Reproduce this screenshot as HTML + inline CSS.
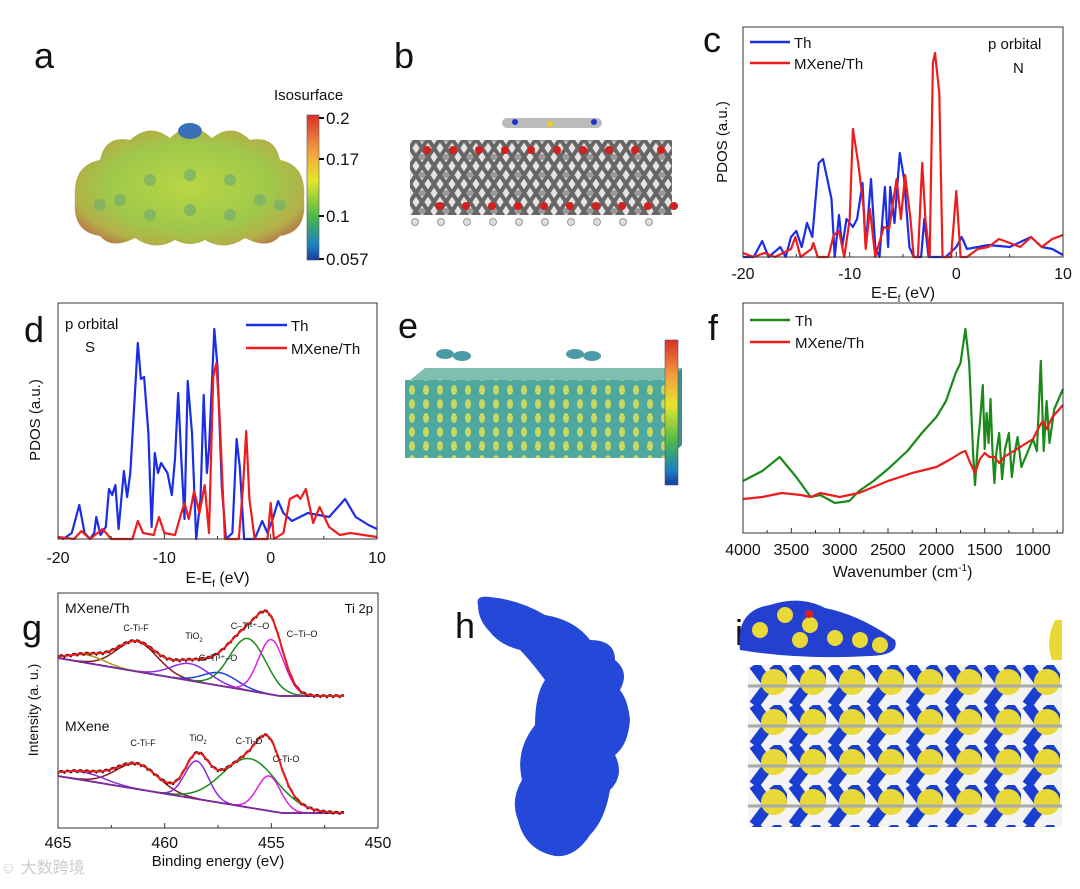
<!DOCTYPE html>
<html><head><meta charset="utf-8">
<style>
html,body{margin:0;padding:0;background:#fff;}
body{width:1080px;height:889px;position:relative;overflow:hidden;font-family:"Liberation Sans","Noto Sans CJK SC",sans-serif;}
svg{position:absolute;left:0;top:0;}
text{font-family:"Liberation Sans","Noto Sans CJK SC",sans-serif;}
</style></head>
<body>
<svg id="fig" width="1080" height="889" viewBox="0 0 1080 889">
<defs>
<linearGradient id="cbar" x1="0" y1="0" x2="0" y2="1">
<stop offset="0" stop-color="#d7302a"/><stop offset="0.25" stop-color="#f4a040"/><stop offset="0.45" stop-color="#e6e62a"/><stop offset="0.7" stop-color="#4cb84c"/><stop offset="0.9" stop-color="#1a80c0"/><stop offset="1" stop-color="#1a3aa0"/>
</linearGradient>
<radialGradient id="blobA" cx="0.5" cy="0.5" r="0.6">
<stop offset="0" stop-color="#b9d645"/><stop offset="0.6" stop-color="#9fc84a"/><stop offset="0.85" stop-color="#b3b048"/><stop offset="1" stop-color="#b7744a"/>
</radialGradient>
<pattern id="slabB" x="410" y="130" width="24" height="18" patternUnits="userSpaceOnUse">
<rect width="24" height="18" fill="#e4e4e4"/>
<path d="M0 18 L12 0 M12 18 L24 0 M0 0 L12 18 M12 0 L24 18" stroke="#666" stroke-width="4"/>
<circle cx="12" cy="9" r="3" fill="#999"/>
</pattern>
<pattern id="slabE" x="405" y="355" width="14" height="14" patternUnits="userSpaceOnUse">
<rect width="14" height="14" fill="#4fa8a0"/>
<ellipse cx="7" cy="7" rx="3" ry="5" fill="#c8d860"/>
</pattern>
<pattern id="slabI" x="748" y="665" width="39" height="40" patternUnits="userSpaceOnUse">
<rect width="39" height="40" fill="#f4f4f4"/>
<path d="M6 0 L21 20 L6 40 M26 0 L39 18" stroke="#1a3fd0" stroke-width="11" fill="none"/>
<circle cx="26" cy="17" r="13" fill="#e8d838"/>
<path d="M0 21 L39 21" stroke="#aaa" stroke-width="3"/>
</pattern>
</defs>
</svg>
<script>
// ---------------- DATA ----------------
// Panel c: PDOS N p orbital (energy eV, intensity a.u.)
const cBlueE=[-20,-19,-18.2,-17.6,-16.5,-16,-15.5,-15,-14.5,-14,-13.5,-12.9,-12.5,-12.1,-11.7,-11.4,-11,-10.7,-10.3,-9.7,-9.3,-8.8,-8.5,-8,-7.6,-7.2,-6.7,-6.4,-6.2,-5.8,-5.3,-4.9,-4.4,-4,-3.3,-3,-2.6,-1,0,0.5,1,2,3,5,7,8,9,10];
const cBlueV=[0,0,8,0,5,0,10,13,5,17,10,47,49,39,29,0,21,5,19,15,19,37,5,39,5,0,35,5,35,17,52,39,5,0,0,19,0,0,5,10,4,5,6,5,10,5,4,1];
const cRedE=[-20,-19,-18,-17,-15.5,-15.1,-14.6,-13.6,-13.4,-13,-12,-11.5,-11,-10.5,-10,-9.7,-9.2,-8.7,-8.5,-8.1,-7.6,-6.8,-6.3,-5.6,-5.2,-4.8,-4.3,-4,-3.6,-3.2,-2.9,-2.5,-2.2,-2,-1.6,-1.3,-0.5,0,0.4,1,2,3,4,5,6,7,8,9,10];
const cRedV=[2,0,2,0,4,10,0,4,7,0,0,11,13,0,19,64,47,25,4,24,0,15,14,39,19,41,19,0,0,47,19,0,97,102,82,0,0,33,0,0,4,5,9,7,5,10,5,9,11];
// Panel d: PDOS S p orbital
const dBlueE=[-20,-19.5,-18.7,-18,-17.5,-17,-16.6,-16.4,-16,-15.5,-15.2,-14.9,-14.6,-14.3,-13.8,-13.5,-13.2,-12.8,-12.5,-12.2,-11.9,-11.5,-11.2,-10.9,-10.6,-10.3,-9.7,-9.3,-9,-8.7,-8.4,-8.1,-7.8,-7.4,-7,-6.6,-6.3,-6,-5.8,-5.3,-5,-4.6,-4.2,-3.6,-3.2,-2.9,-2.5,-1.5,-0.8,-0.3,0.2,0.7,1.2,2,3.5,5.5,7,8,9.2,10];
const dBlueV=[1,0,3,17,3,0,3,11,2,6,25,22,27,5,34,21,33,70,98,80,81,53,6,43,33,38,33,22,40,73,40,10,79,53,0,20,72,33,45,105,86,26,0,3,50,36,0,0,9,3,10,19,13,9,13,11,20,11,7,5];
const dRedE=[-20,-18.5,-17.8,-17,-15.8,-15,-13,-12.5,-12,-11,-10.5,-10,-9,-8.4,-8.1,-7.7,-7.2,-6.7,-6.2,-5.8,-5.4,-5.1,-4.8,-4.3,-3,-2.6,-2.3,-2,-1.5,-0.3,0,0.3,1.2,1.8,2.5,2.8,3.3,4,4.6,5.5,6.5,7.5,10];
const dRedV=[1,0,4,0,5,0,0,9,3,2,11,3,2,13,18,10,24,13,27,3,81,88,61,0,0,26,54,20,0,0,18,0,3,20,22,20,25,8,16,6,2,3,1];
// Panel f: FTIR (wavenumber cm-1, transmittance a.u.)
const fGreenW=[4000,3800,3620,3450,3300,3200,3050,2900,2800,2650,2500,2300,2150,2000,1900,1800,1750,1700,1660,1620,1600,1570,1550,1520,1500,1480,1460,1440,1420,1400,1380,1350,1320,1290,1250,1220,1190,1160,1120,1060,1000,960,920,890,860,830,780,690];
const fGreenV=[26,31,38,28,18,19,15,16,21,26,32,41,50,58,66,80,85,102,85,40,24,45,55,74,42,60,45,67,42,25,40,50,27,42,50,28,40,48,33,40,47,41,86,41,66,45,62,72];
const fRedW=[4000,3800,3600,3400,3300,3200,3000,2800,2500,2250,2000,1850,1750,1700,1650,1600,1550,1500,1450,1400,1350,1300,1200,1100,1000,950,900,860,800,690];
const fRedV=[17,18,20,19,18,20,18,20,26,30,33,37,40,41,35,30,37,40,38,38,35,38,41,44,47,52,56,52,58,64];
// Panel g: XPS Ti 2p fitted components (center eV, amplitude, sigma)
const gTopCenter=[461.3,458.8,457.4,456.1,455.0,463.6];
const gTopAmp=[30,17,13,52,55,8];
const gTopSigma=[0.95,0.9,0.8,0.85,0.6,0.8];
const gTopColors=["#8b1a1a","#8a2be2","#1f3fe0","#1a8a1a","#e020e0","#a0a020"];
const gBotCenter=[461.3,458.5,456.0,455.1,463.8];
const gBotAmp=[25,38,49,35,8];
const gBotSigma=[1.0,0.55,1.3,0.55,1.0];
const gBotColors=["#8b1a1a","#8a2be2","#1a8a1a","#e020e0","#8a2be2"];
// ---------------- HELPERS ----------------
const NS="http://www.w3.org/2000/svg";
const svg=document.getElementById('fig');
function mk(tag,attrs,parent){const e=document.createElementNS(NS,tag);for(const k in attrs)e.setAttribute(k,attrs[k]);(parent||svg).appendChild(e);return e;}
function lin(d0,d1,r0,r1){return v=>r0+(v-d0)/(d1-d0)*(r1-r0);}
function txt(x,y,s,size,anchor,parent,extra){const t=mk('text',Object.assign({x:x,y:y,'font-size':size,'text-anchor':anchor||'start',fill:'#111'},extra||{}),parent);t.textContent=s;return t;}
function path(xs,ys,sx,sy,color,parent,w){let d='';for(let i=0;i<xs.length;i++){d+=(i?'L':'M')+sx(xs[i]).toFixed(1)+' '+sy(ys[i]).toFixed(1);}return mk('path',{d:d,fill:'none',stroke:color,'stroke-width':w||2.2,'stroke-linejoin':'round'},parent);}
function axesBox(g,L,T,R,B){mk('rect',{x:L,y:T,width:R-L,height:B-T,fill:'none',stroke:'#333','stroke-width':1},g);}
function panelLabel(x,y,s,name){const t=txt(x,y,s,36,'start');}

// ---------------- PANEL LABELS ----------------
panelLabel(34,68,'a','panel-label-a');
panelLabel(394,68,'b','panel-label-b');
panelLabel(703,52,'c','panel-label-c');
panelLabel(24,342,'d','panel-label-d');
panelLabel(398,338,'e','panel-label-e');
panelLabel(708,340,'f','panel-label-f');
panelLabel(22,640,'g','panel-label-g');
panelLabel(455,638,'h','panel-label-h');
panelLabel(735,645,'i','panel-label-i');

// ---------------- PANEL A ----------------
const ga=mk('g',{});


mk('path',{d:'M75 200 Q72 165 100 160 Q105 135 130 140 Q150 122 170 138 Q190 118 212 138 Q232 122 250 140 Q275 135 280 160 Q307 165 304 200 Q307 232 280 236 Q268 250 245 238 Q225 252 205 240 Q190 248 175 240 Q155 252 135 238 Q112 250 100 236 Q72 232 75 200 Z',fill:'url(#blobA)'},ga);
mk('ellipse',{cx:190,cy:131,rx:12,ry:8,fill:'#3a70b8'},ga);
[[120,200],[150,180],[150,215],[230,180],[230,215],[260,200],[190,175],[190,210],[100,205],[280,205]].forEach(p=>mk('circle',{cx:p[0],cy:p[1],r:6,fill:'#7cb068',opacity:0.8},ga));
const cb=mk('g',{});


mk('rect',{x:307,y:115,width:12,height:145,fill:'url(#cbar)',stroke:'#555','stroke-width':0.6},cb);
txt(274,100,'Isosurface',15,'start',cb);
[['0.2',118],['0.17',159],['0.1',216],['0.057',259]].forEach(l=>{mk('line',{x1:319,x2:324,y1:l[1],y2:l[1],stroke:'#111','stroke-width':2},cb);txt(326,l[1]+6,l[0],17,'start',cb);});

// ---------------- PANEL B ----------------
const gb=mk('g',{});


mk('rect',{x:410,y:140,width:262,height:75,fill:'url(#slabB)'},gb);
for(let i=0;i<10;i++){mk('circle',{cx:427+i*26,cy:150,r:4,fill:'#d02020'},gb);mk('circle',{cx:440+i*26,cy:206,r:4,fill:'#d02020'},gb);mk('circle',{cx:415+i*26,cy:222,r:3.5,fill:'#ddd',stroke:'#999'},gb);}
mk('rect',{x:502,y:118,width:100,height:10,rx:5,fill:'#bbb'},gb);
mk('circle',{cx:550,cy:124,r:3,fill:'#e8d020'},gb);
mk('circle',{cx:515,cy:122,r:3,fill:'#2030d0'},gb);
mk('circle',{cx:594,cy:122,r:3,fill:'#2030d0'},gb);

// ---------------- PANEL C ----------------
(function(){
const g=mk('g',{});


const L=743,R=1063,T=27,B=257;
const sx=lin(-20,10,L,R), sy=lin(0,115,B,T);
const pb=path(cBlueE,cBlueV,sx,sy,'#1a2ee6',g); 
const pr=path(cRedE,cRedV,sx,sy,'#ee1c1c',g); 
axesBox(g,L,T,R,B);
for(let v=-20;v<=10;v+=5){mk('line',{x1:sx(v),x2:sx(v),y1:B,y2:B-(v%10===0?5:3),stroke:'#333'},g);}
[-20,-10,0,10].forEach(v=>txt(sx(v),B+22,String(v),16,'middle',g));
const xl=txt(sx(-5),B+41,'',16,'middle',g);xl.innerHTML='E-E<tspan font-size="10" dy="4">f</tspan><tspan dy="-4"> (eV)</tspan>';

const yl=txt(0,0,'PDOS (a.u.)',15,'middle',g,{transform:'translate(727,142) rotate(-90)'});

const lg=mk('g',{},g);
mk('line',{x1:750,x2:790,y1:42,y2:42,stroke:'#1a2ee6','stroke-width':2.5},lg);txt(794,48,'Th',15,'start',lg);
mk('line',{x1:750,x2:790,y1:63,y2:63,stroke:'#ee1c1c','stroke-width':2.5},lg);txt(794,69,'MXene/Th',15,'start',lg);
txt(988,49,'p orbital',15,'start',g);txt(1013,73,'N',15,'start',g);
})();

// ---------------- PANEL D ----------------
(function(){
const g=mk('g',{});


const L=58,R=377,T=303,B=539;
const sx=lin(-20,10,L,R), sy=lin(0,118,B,T);
const pb=path(dBlueE,dBlueV,sx,sy,'#1a2ee6',g);
const pr=path(dRedE,dRedV,sx,sy,'#ee1c1c',g);
axesBox(g,L,T,R,B);
for(let v=-20;v<=10;v+=5){mk('line',{x1:sx(v),x2:sx(v),y1:B,y2:B-(v%10===0?5:3),stroke:'#333'},g);}
[-20,-10,0,10].forEach(v=>txt(sx(v),B+24,String(v),16,'middle',g));
const xl=txt(sx(-5),B+44,'',16,'middle',g);xl.innerHTML='E-E<tspan font-size="10" dy="4">f</tspan><tspan dy="-4"> (eV)</tspan>';

const yl=txt(0,0,'PDOS (a.u.)',15,'middle',g,{transform:'translate(40,420) rotate(-90)'});

txt(65,329,'p orbital',15,'start',g);txt(85,352,'S',15,'start',g);
const lg=mk('g',{},g);
mk('line',{x1:246,x2:287,y1:325,y2:325,stroke:'#1a2ee6','stroke-width':2.5},lg);txt(291,331,'Th',15,'start',lg);
mk('line',{x1:246,x2:287,y1:348,y2:348,stroke:'#ee1c1c','stroke-width':2.5},lg);txt(291,354,'MXene/Th',15,'start',lg);
})();

// ---------------- PANEL E ----------------
const ge=mk('g',{});


mk('path',{d:'M410 380 L425 368 L682 368 L668 380 Z',fill:'#7fbfae'},ge);
mk('rect',{x:405,y:380,width:263,height:78,fill:'url(#slabE)'},ge);
mk('path',{d:'M668 380 L682 368 L682 445 L668 458 Z',fill:'#3f9088'},ge);
[[445,354],[462,356],[575,354],[592,356]].forEach(p=>mk('ellipse',{cx:p[0],cy:p[1],rx:9,ry:5,fill:'#4a9aa8'},ge));
mk('rect',{x:665,y:340,width:13,height:145,fill:'url(#cbar)',stroke:'#555','stroke-width':0.6},ge);

// ---------------- PANEL F ----------------
(function(){
const g=mk('g',{});


const L=743,R=1063,T=303,B=533;
const sx=lin(4000,690,L,R), sy=lin(0,115,B,T);
const pg=path(fGreenW,fGreenV,sx,sy,'#1a8a1a',g);
const pr=path(fRedW,fRedV,sx,sy,'#ee1c1c',g);
axesBox(g,L,T,R,B);
for(let v=4000;v>=750;v-=250){mk('line',{x1:sx(v),x2:sx(v),y1:B,y2:B-(v%500===0?5:3),stroke:'#333'},g);}
[4000,3500,3000,2500,2000,1500,1000].forEach(v=>txt(sx(v),B+22,String(v),16,'middle',g));
const xl=txt(sx(2350),B+44,'',16,'middle',g);xl.innerHTML='Wavenumber (cm<tspan font-size="10" dy="-6">-1</tspan><tspan dy="6">)</tspan>';

const lg=mk('g',{},g);
mk('line',{x1:750,x2:790,y1:320,y2:320,stroke:'#1a8a1a','stroke-width':2.5},lg);txt(795,326,'Th',15,'start',lg);
mk('line',{x1:750,x2:790,y1:342,y2:342,stroke:'#ee1c1c','stroke-width':2.5},lg);txt(795,348,'MXene/Th',15,'start',lg);
})();

// ---------------- PANEL G ----------------
(function(){
const g=mk('g',{});


const L=58,R=378,T=593,B=828;
const sx=lin(465,450,L,R);
function spectrum(centers,amps,sigmas,colors,bg0,bg1,bgEnd,name){
  const gs=mk('g',{},g);
  
  
  const E=[];for(let e=465;e>=451.5;e-=0.1)E.push(+e.toFixed(2));
  const bg=e=> e>bgEnd ? bg0+(465-e)/(465-bgEnd)*(bg1-bg0) : bg1;
  const gauss=(e,i)=>amps[i]*Math.exp(-0.5*Math.pow((e-centers[i])/sigmas[i],2));
  const id=v=>v;
  centers.forEach((c,i)=>{
    const ys=E.map(e=>bg(e)-gauss(e,i));
    const p=path(E,ys,sx,id,colors[i],gs,1.5);
    
    
  });
  const bl=path(E,E.map(e=>bg(e)),sx,id,'#7a2a9a',gs,1.8);
  
  
  const tot=E.map(e=>{let s=0;centers.forEach((c,i)=>s+=gauss(e,i));return bg(e)-s;});
  const raw=path(E,tot.map((v,k)=>v+(k%3===0?1.5:-1)),sx,id,'#111',gs,1.6);
  
  
  const env=path(E,tot,sx,id,'#ee1c1c',gs,2);
  
  
}
spectrum(gTopCenter,gTopAmp,gTopSigma,gTopColors,658,696,454.6,'spectrum-mxene-th');
spectrum(gBotCenter,gBotAmp,gBotSigma,gBotColors,776,813,454.5,'spectrum-mxene');
axesBox(g,L,T,R,B);
for(let v=465;v>=450;v-=2.5){mk('line',{x1:sx(v),x2:sx(v),y1:B,y2:B-(v%5===0?5:3),stroke:'#333'},g);}
[465,460,455,450].forEach(v=>txt(sx(v),B+20,String(v),16,'middle',g));
const xl=txt(sx(457.5),B+38,'Binding energy (eV)',15,'middle',g);

const yl=txt(0,0,'Intensity (a. u.)',14,'middle',g,{transform:'translate(38,710) rotate(-90)'});

txt(65,613,'MXene/Th',14,'start',g);txt(65,731,'MXene',14,'start',g);txt(373,613,'Ti 2p',13,'end',g);
[['C-Ti-F',136,631],['C-Ti-F',143,746]].forEach(l=>txt(l[1],l[2],l[0],9,'middle',g));
const s1=txt(194,639,'',9,'middle',g);s1.innerHTML='TiO<tspan font-size="6" dy="3">2</tspan>';
const s2=txt(198,741,'',9,'middle',g);s2.innerHTML='TiO<tspan font-size="6" dy="3">2</tspan>';
txt(250,629,'C–Ti²⁺–O',9,'middle',g);txt(302,637,'C–Ti–O',9,'middle',g);
txt(218,661,'C–Ti³⁺–O',9,'middle',g);txt(249,744,'C-Ti-O',9,'middle',g);txt(286,762,'C-Ti-O',9,'middle',g);
const wm=txt(0,873,'☺ 大数跨境',16,'start',g,{fill:'#ccc'});

})();

// ---------------- PANEL H ----------------
const gh=mk('g',{});


mk('path',{d:'M478 605 Q475 595 490 597 Q520 600 545 615 Q575 620 590 640 Q615 640 615 660 Q630 672 620 690 Q628 700 630 720 Q628 745 615 755 Q625 775 610 790 Q605 820 590 835 Q575 858 555 856 Q525 850 518 820 Q510 800 522 780 Q515 750 535 725 Q535 695 545 680 Q530 660 520 650 Q500 645 490 632 Q478 620 478 605 Z',fill:'#2448d8'},gh);

// ---------------- PANEL I ----------------
const gi=mk('g',{});


mk('rect',{x:748,y:665,width:314,height:162,fill:'url(#slabI)'},gi);
mk('path',{d:'M740 650 Q735 610 770 605 Q800 595 825 608 Q860 615 895 640 Q900 655 870 656 Q800 660 740 650 Z',fill:'#2440d0'},gi);
[[760,630],[785,615],[810,625],[835,638],[860,640],[880,645],[800,640]].forEach(p=>mk('circle',{cx:p[0],cy:p[1],r:8,fill:'#e8d838'},gi));
mk('circle',{cx:809,cy:614,r:4,fill:'#e02020'},gi);
mk('path',{d:'M1055 620 Q1045 640 1052 660 L1062 660 L1062 620 Z',fill:'#e8d838'},gi);
</script>
</body></html>
